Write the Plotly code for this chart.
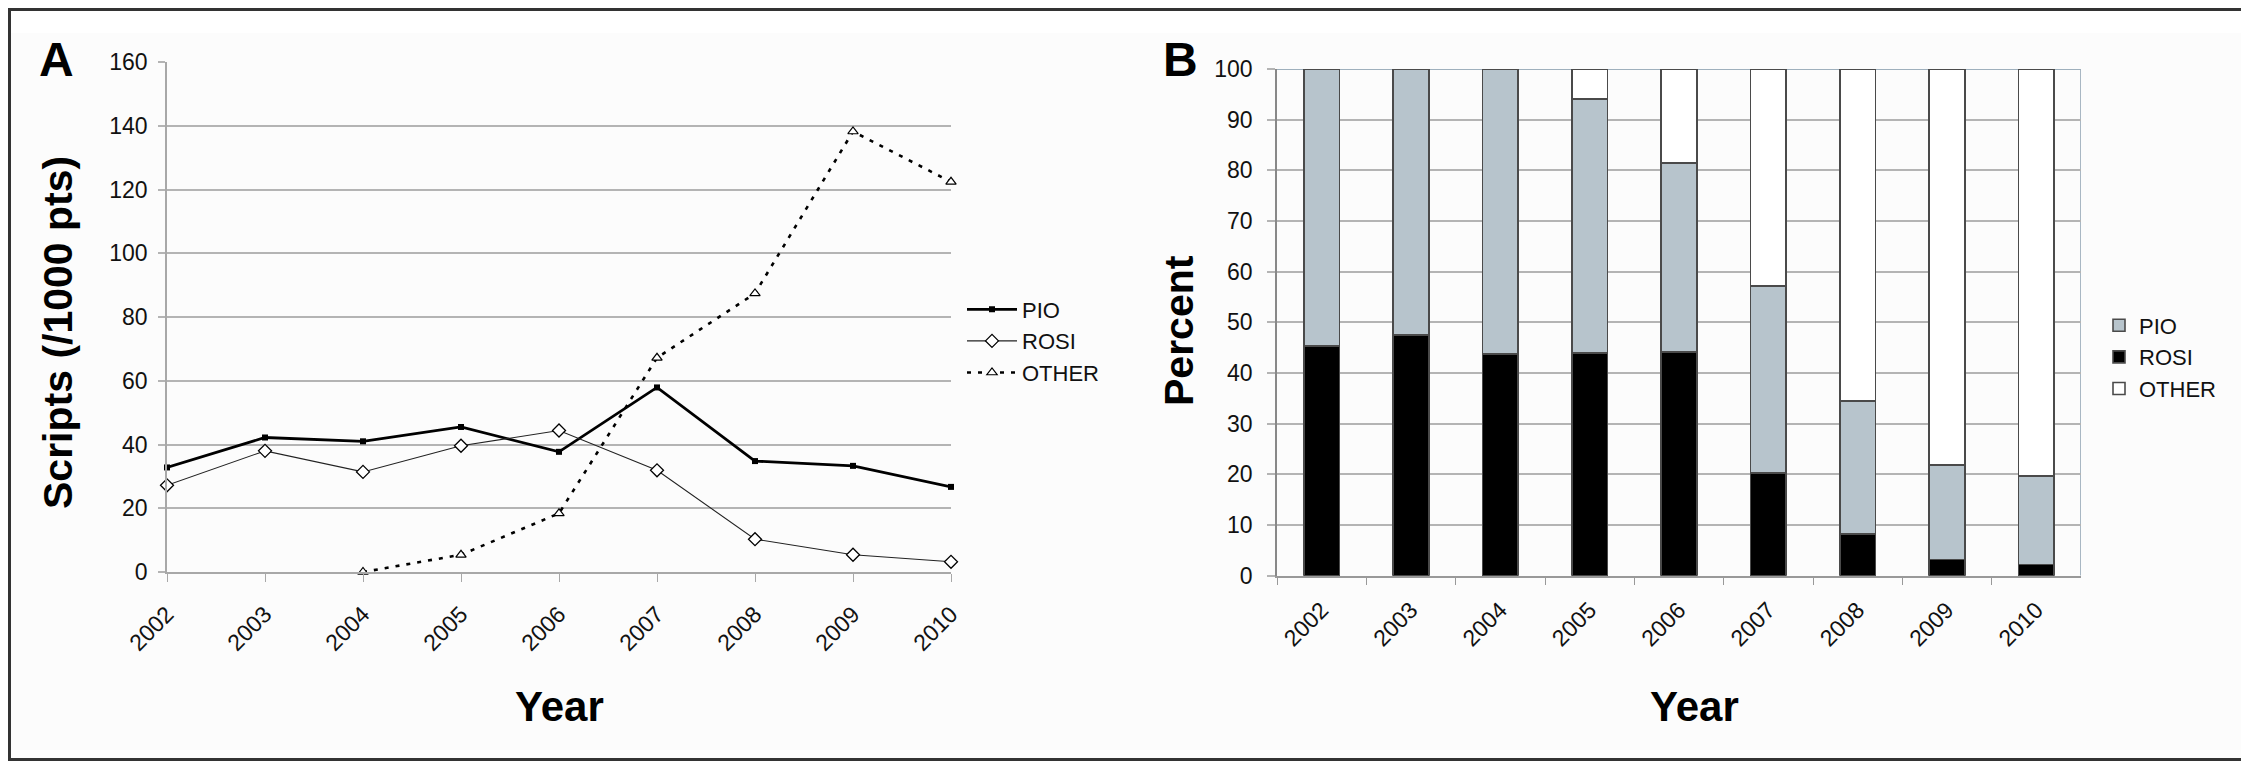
import plotly.graph_objects as go

# The page body has an 8px margin, so the figure is drawn 8px in from the
# window corner; positions below are given in window pixels and shifted.
W, H = 2249, 761
OFF = 8
FW, FH = W - OFF, H - OFF

years = [2002, 2003, 2004, 2005, 2006, 2007, 2008, 2009, 2010]
year_labels = [str(y) for y in years]

# Panel A: scripts per 1000 patients
pio_scripts = [32.8, 42.2, 41.0, 45.5, 37.7, 57.9, 34.8, 33.3, 26.7]
rosi_scripts = [27.2, 38.0, 31.4, 39.6, 44.4, 31.9, 10.3, 5.4, 3.2]
other_scripts = [None, None, 0.0, 5.4, 18.4, 67.2, 87.4, 138.2, 122.4]

# Panel B: percent share
rosi_pct = [45.3, 47.5, 43.7, 43.9, 44.2, 20.3, 8.2, 3.2, 2.2]
pio_pct = [54.7, 52.5, 56.3, 50.2, 37.2, 36.9, 26.3, 18.6, 17.5]
other_pct = [0.0, 0.0, 0.0, 5.9, 18.6, 42.8, 65.5, 78.2, 80.3]

FONT = "Liberation Sans, Arial, sans-serif"
GRID = "#b4b4b4"
AXIS = "#a8a8a8"

def px(x):
    return (x - OFF) / FW

def py(y):
    return 1 - (y - OFF) / FH

fig = go.Figure()

# ---- Panel A ----
fig.add_trace(go.Scatter(
    x=years, y=pio_scripts, name="PIO", mode="lines+markers",
    line=dict(color="black", width=2.8),
    marker=dict(symbol="square", size=6, color="black"),
    xaxis="x", yaxis="y", legend="legend", cliponaxis=False))
fig.add_trace(go.Scatter(
    x=years, y=rosi_scripts, name="ROSI", mode="lines+markers",
    line=dict(color="#222222", width=1.1),
    marker=dict(symbol="diamond", size=10, color="white",
                line=dict(color="black", width=1.3)),
    xaxis="x", yaxis="y", legend="legend", cliponaxis=False))
fig.add_trace(go.Scatter(
    x=years, y=other_scripts, name="OTHER", mode="lines+markers",
    line=dict(color="black", width=2.6, dash="4px,7px"),
    marker=dict(symbol="triangle-up", size=9, color="white",
                line=dict(color="black", width=1.2)),
    xaxis="x", yaxis="y", legend="legend", cliponaxis=False,
    connectgaps=False))

# ---- Panel B ----
bar_line = dict(color="#4a4a4a", width=1.6)
fig.add_trace(go.Bar(
    x=year_labels, y=rosi_pct, name="ROSI", marker=dict(color="black", line=bar_line),
    xaxis="x2", yaxis="y2", legend="legend2", legendrank=2))
fig.add_trace(go.Bar(
    x=year_labels, y=pio_pct, name="PIO", marker=dict(color="#b7c4cc", line=bar_line),
    xaxis="x2", yaxis="y2", legend="legend2", legendrank=1))
fig.add_trace(go.Bar(
    x=year_labels, y=other_pct, name="OTHER", marker=dict(color="white", line=bar_line),
    xaxis="x2", yaxis="y2", legend="legend2", legendrank=3))

tickfont = dict(family=FONT, size=23, color="#111111")

fig.update_layout(
    width=FW, height=FH,
    margin=dict(l=0, r=0, t=0, b=0, autoexpand=False),
    paper_bgcolor="#fcfcfc",
    plot_bgcolor="rgba(0,0,0,0)",
    barmode="stack",
    bargap=0.6,
    font=dict(family=FONT, size=22, color="#111111"),
    xaxis=dict(
        domain=[px(167), px(951)], anchor="y", automargin=False,
        range=[2002, 2010], tickmode="array", tickvals=years, ticktext=year_labels,
        tickangle=-45, tickfont=tickfont, showgrid=False, zeroline=False,
        showline=True, linecolor=AXIS, linewidth=1.5,
        ticks="outside", ticklen=8, tickcolor=AXIS, tickwidth=1.2,
        ticklabelstandoff=10),
    yaxis=dict(
        domain=[py(572), py(62)], anchor="x", automargin=False,
        range=[0, 160], dtick=20, tickfont=tickfont,
        showgrid=True, gridcolor=GRID, gridwidth=1.6, zeroline=False,
        showline=True, linecolor=AXIS, linewidth=1.5,
        ticks="outside", ticklen=7, tickcolor=GRID, tickwidth=1.6,
        ticklabelstandoff=6),
    xaxis2=dict(
        domain=[px(1277), px(2081)], anchor="y2", automargin=False,
        type="category", range=[-0.5, 8.5], tickson="boundaries",
        tickangle=-45, tickfont=tickfont, showgrid=False, zeroline=False,
        showline=True, linecolor="#999999", linewidth=1.5,
        ticks="outside", ticklen=8, tickcolor="#999999", tickwidth=1.2,
        ticklabelstandoff=10),
    yaxis2=dict(
        domain=[py(575.7), py(69)], anchor="x2", automargin=False,
        range=[0, 100], dtick=10, tickfont=tickfont,
        showgrid=True, gridcolor=GRID, gridwidth=1.6, zeroline=False,
        showline=True, linecolor="#888888", linewidth=1.5,
        ticks="outside", ticklen=8, tickcolor=GRID, tickwidth=1.6,
        ticklabelstandoff=10),
    legend=dict(
        x=px(962), y=py(341), xanchor="left", yanchor="middle",
        font=dict(family=FONT, size=22, color="#111111"),
        bgcolor="rgba(0,0,0,0)", itemwidth=50, tracegroupgap=0,
        traceorder="normal"),
    legend2=dict(
        x=px(2099), y=py(357), xanchor="left", yanchor="middle",
        font=dict(family=FONT, size=22, color="#111111"),
        bgcolor="rgba(0,0,0,0)", traceorder="normal"),
    showlegend=True,
)

# white strip along the top and the outer frame
fig.add_shape(type="rect", xref="paper", yref="paper",
              x0=0, x1=1, y0=py(33), y1=1,
              fillcolor="white", line=dict(width=0), layer="below")
fig.add_shape(type="rect", xref="paper", yref="paper",
              x0=px(OFF + 1.5), x1=px(W - 1.5), y0=py(H - 1.5), y1=py(OFF + 1.5),
              line=dict(color="#333333", width=3), layer="above")
# top and right border of panel B
fig.add_shape(type="line", xref="x2", yref="y2", x0=-0.5, x1=8.5, y0=100, y1=100,
              line=dict(color="#9fb0bd", width=1.8), layer="below")
fig.add_shape(type="line", xref="x2", yref="y2", x0=8.5, x1=8.5, y0=0, y1=100,
              line=dict(color="#9fb0bd", width=1.8), layer="below")

bold = dict(family=FONT, color="black")
ann = [
    dict(text="<b>A</b>", x=px(56), y=py(60), size=48),
    dict(text="<b>B</b>", x=px(1180), y=py(60), size=48),
    dict(text="<b>Year</b>", x=px(559), y=py(706), size=42),
    dict(text="<b>Year</b>", x=px(1694), y=py(706), size=42),
]
for a in ann:
    fig.add_annotation(text=a["text"], x=a["x"], y=a["y"], xref="paper", yref="paper",
                       xanchor="center", yanchor="middle", showarrow=False,
                       font=dict(size=a["size"], **bold))
fig.add_annotation(text="<b>Scripts (/1000 pts)</b>", x=px(58), y=py(333),
                   xref="paper", yref="paper", xanchor="center", yanchor="middle",
                   showarrow=False, textangle=-90, font=dict(size=41, **bold))
fig.add_annotation(text="<b>Percent</b>", x=px(1179), y=py(331),
                   xref="paper", yref="paper", xanchor="center", yanchor="middle",
                   showarrow=False, textangle=-90, font=dict(size=41, **bold))

fig.write_html("out.html")
